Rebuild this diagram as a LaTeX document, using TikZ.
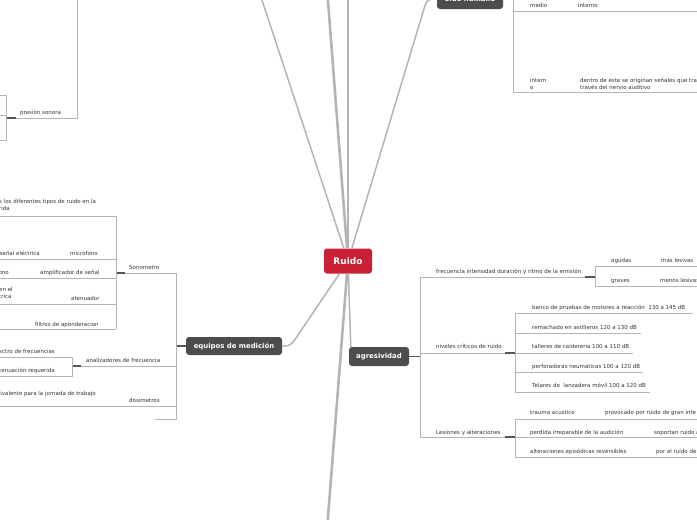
\documentclass[tikz,border=0pt]{standalone}
\usepackage{fontspec}
\setmainfont{DejaVu Sans}
\usepackage{tikz}
\usetikzlibrary{positioning,calc}
\definecolor{rzred}{RGB}{200,32,52}
\definecolor{rzdark}{RGB}{77,77,77}
\definecolor{rzline}{RGB}{180,180,180}
\definecolor{rzlink}{RGB}{85,85,85}
\definecolor{rztext}{RGB}{51,51,51}
\tikzset{
  rootnode/.style={rounded corners=3pt, fill=#1, font=\fontsize{9}{10}\selectfont\bfseries,
                   text=white, minimum width=48pt, minimum height=25pt, inner sep=0pt},
  topicnode/.style={rounded corners=3pt, fill=#1, font=\fontsize{6.9}{8}\selectfont\bfseries,
                    text=white, minimum height=19pt, inner sep=0pt},
  leaf/.style={font=\fontsize{5.5}{7}\selectfont, text=rztext, inner sep=0pt, anchor=base west},
  leafr/.style={leaf, anchor=base east},
  leafm/.style={font=\fontsize{5.5}{7}\selectfont, text=rztext, inner sep=0pt,
                anchor=north west, align=left},
  branch/.style={line width=2.6pt, rzline},
  twig/.style={line width=1.5pt, rzline},
  uline/.style={line width=0.9pt, rzline},
  hook/.style={line width=1.3pt, rzlink},
}

\begin{document}
\begin{tikzpicture}[x=1pt, y=-1pt]
\useasboundingbox (0,0) rectangle (697,520);

% main topics
\node[rootnode=rzred] (ruido) at (348,261) {Ruido};
\node[topicnode=rzdark, minimum width=66pt, minimum height=20pt] (oido) at (470,-1) {oido humano};
\node[topicnode=rzdark, minimum width=96pt, minimum height=18pt] (equipos) at (234,346) {equipos de medición};
\node[topicnode=rzdark, minimum width=60pt] (agres) at (379,356.5) {agresividad};

% branches leaving the picture
\coordinate (offA) at (258,-12);
\coordinate (offB) at (327,-12);
\coordinate (offC) at (348,-12);
\coordinate (offD) at (327,530);
\draw[twig] (ruido) -- (offA);
\draw[branch] (ruido) -- (offB);
\draw[branch] (ruido) -- (offC);
\draw[branch] (ruido) -- (offD);

% branches to the topics
\coordinate (kOido) at (423,12);
\coordinate (kEquipos) at (294,341);
\draw[twig] (ruido) -- (kOido) .. controls (427,-1) .. (oido.west);
\draw[twig] (ruido) -- (kEquipos) .. controls (289,346) .. (equipos.east);
\draw[twig] (ruido) -- ([xshift=2pt]agres.north west);

% oido humano
\draw[hook] (oido.east) -- (513,-1);
\draw[uline] (513,-15) -- (513,92);
\draw[uline] (513,11) -- (700,11);
\draw[uline] (513,92) -- (700,92);
\node[leaf] (medio) at (530,7) {medio};
\node[leaf] (interno) at (578,7) {interno};
\node[leafm] (intern) at (530,78) {intern\\o};
\node[leafm] (nervio) at (580,78) {dentro de este se originan señales que tra\\través del nervio auditivo};

% presion sonora
\draw[uline] (77,-15) -- (77,118) -- (16,118);
\draw[hook] (16,118) -- (6,118);
\draw[uline] (-5,95) -- (6,95) -- (6,140) -- (-5,140);
\draw[uline] (-5,115) -- (6,115);
\node[leaf] (presion) at (20,114) {presion sonora};

% equipos de medicion
\draw[hook] (equipos.west) -- (176,346);
\draw[uline] (125,273) -- (176,273) -- (176,419) -- (155,419);
\draw[uline] (-5,406) -- (176,406);
\draw[uline] (81,366) -- (176,366);
\draw[hook] (116,273) -- (125,273);
\draw[hook] (72,366) -- (81,366);
\draw[uline] (116,216) -- (116,329);
\foreach \y in {216,259,278,304,329}
  \draw[uline] (-5,\y) -- (116,\y);
\draw[uline] (-5,357) -- (72,357) -- (72,376) -- (-5,376);

\node[leaf] (sono) at (129,269) {Sonometro};
\node[leaf] (analiza) at (86,362) {analizadores de frecuencia};
\node[leaf] (dosi) at (129,402) {dosimetros};
\node[leafm] (tipos) at (-1,199) {s los diferentes tipos de ruido en la\\rida};
\node[leafr] (senal) at (40,255) {señal eléctrica};
\node[leaf] (micro) at (70,255) {microfono};
\node[leafr] (ono) at (9,274) {ono};
\node[leaf] (ampli) at (40,274) {amplificador de señal};
\node[leafm] (enel) at (-1,287) {en el\\trica};
\node[leaf] (atenua) at (71,300) {atenuador};
\node[leaf] (filtros) at (35,326) {filtros de aponderacion};
\node[leafr] (espectro) at (55,353) {ectro de frecuencias};
\node[leafr] (atreq) at (55,372) {tenuación requerida};
\node[leafr] (jornada) at (96,395) {ivalente para la jornada de trabajo};

% agresividad
\draw[hook] (agres.east) -- (420,356.5);
\draw[uline] (585,277) -- (420,277) -- (420,437) -- (505,437);
\draw[uline] (420,353) -- (505,353);
\draw[hook] (585,277) -- (595,277);
\draw[hook] (505,353) -- (515,353);
\draw[hook] (505,437) -- (515,437);
\draw[uline] (700,266) -- (595,266) -- (595,286) -- (700,286);
\draw[uline] (515,313) -- (515,392);
\draw[uline] (515,313) -- (693,313);
\draw[uline] (515,333) -- (641,333);
\draw[uline] (515,353) -- (633,353);
\draw[uline] (515,372) -- (643,372);
\draw[uline] (515,392) -- (650,392);
\draw[uline] (515,419) -- (515,457);
\foreach \y in {419,437,457}
  \draw[uline] (515,\y) -- (700,\y);

\node[leaf] (frec) at (436,273) {frecuencia intensidad duración y ritmo de la emisión};
\node[leaf] (agudas) at (611,262) {agudas};
\node[leaf] (mas) at (661,262) {mas lesivas};
\node[leaf] (graves) at (611,282) {graves};
\node[leaf] (menos) at (660,282) {menos lesivas};
\node[leaf] (niveles) at (436,348) {niveles críticos de ruido};
\node[leaf] (banco) at (532,309) {banco de pruebas de motores a reacción\ \ 130 a 145 dB};
\node[leaf] (remache) at (532,329) {remachado en astilleros 120 a 130 dB};
\node[leaf] (talleres) at (532,348) {talleres de caldereria 100 a 110 dB};
\node[leaf] (perfora) at (532,368) {perforadoras neumaticas 100 a 120 dB};
\node[leaf] (telares) at (532,387) {Telares de\ \ lanzadera móvil 100 a 120 dB};
\node[leaf] (lesiones) at (436,434) {Lesiones y alteraciones};
\node[leaf] (trauma) at (530,414) {trauma acustico};
\node[leaf] (provoca) at (605,414) {provocado por ruido de gran inte};
\node[leaf] (perdida) at (530,434) {perdida irreparable de la audición};
\node[leaf] (soporta) at (654,434) {soportan ruido a};
\node[leaf] (altera) at (530,453) {alteraciones episódicas reversibles};
\node[leaf] (porel) at (656,453) {por el ruido de};

\end{tikzpicture}
\end{document}
